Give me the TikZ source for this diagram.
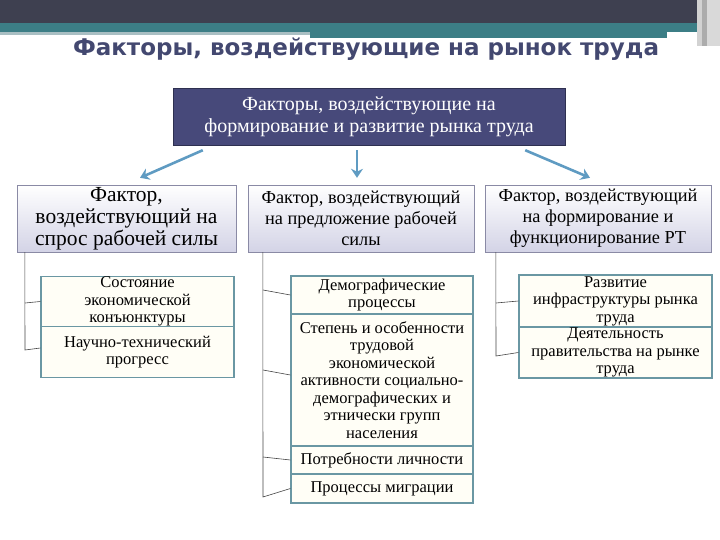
\documentclass[tikz,border=0pt]{standalone}
\usepackage{fontspec}
\setmainfont{Liberation Serif}
\newfontfamily\titlefont{DejaVu Sans}
\usetikzlibrary{positioning,arrows.meta}
\definecolor{barDark}{HTML}{3E4050}
\definecolor{barTeal}{HTML}{3C7E86}
\definecolor{barLight}{HTML}{A9BFC3}
\definecolor{titleCol}{HTML}{434870}
\definecolor{mainFill}{HTML}{47497A}
\definecolor{mainLine}{HTML}{2E3050}
\definecolor{factBot}{HTML}{D3D3E6}
\definecolor{factLine}{HTML}{8A8AA5}
\definecolor{itemLine}{HTML}{6A97A3}
\definecolor{itemFill}{HTML}{FFFEF6}
\definecolor{arrowCol}{HTML}{5F9BC2}
\definecolor{linkCol}{HTML}{444444}
\begin{document}
\begin{tikzpicture}[x=1pt,y=-1pt,
  topbox/.style={draw=mainLine,fill=mainFill,text=white,align=center,inner sep=0pt,
    font=\fontsize{20}{22}\selectfont},
  factbox/.style={draw=factLine,top color=white,bottom color=factBot,align=center,
    inner sep=0pt,minimum height=67pt,font=\fontsize{18.3}{21}\selectfont},
  itembox/.style={draw=itemLine,line width=1.2pt,fill=itemFill,align=center,
    inner sep=0pt,font=\fontsize{16.5}{17.5}\selectfont},
  arr/.style={arrowCol,line width=2.6pt,-{Stealth[length=9pt,width=12pt]}},
  link/.style={draw=linkCol,line width=0.6pt}]
	\useasboundingbox (0,0) rectangle (720,540);
	% header strips
	\fill[barDark] (0,0) rectangle (697,23);
	\fill[barTeal] (0,23) rectangle (697,32);
	\fill[barTeal] (310,32) rectangle (667,38);
	\fill[barLight] (0,32) rectangle (310,35);
	\fill[gray!35] (697,0) rectangle (702,46);
	\fill[gray!65] (702,0) rectangle (707,46);
	\fill[gray!30] (707,0) rectangle (720,46);
	\node[font=\titlefont\bfseries\fontsize{23}{28}\selectfont,text=titleCol] (title) at (366,49) {Факторы, воздействующие на рынок труда};

	\node[topbox,minimum width=392pt,minimum height=57pt] (main) at (369,116.5) {Факторы, воздействующие на\\формирование и развитие рынка труда};

	\node[factbox,minimum width=219pt,font=\fontsize{21.5}{22}\selectfont] (fA) at (126.5,218.5) {Фактор,\\воздействующий на\\спрос рабочей силы};
	\node[factbox,minimum width=226pt] (fB) at (361,218.5) {Фактор, воздействующий\\на предложение рабочей\\силы};
	\node[factbox,minimum width=226pt] (fC) at (598,218.5) {Фактор, воздействующий\\на формирование и\\функционирование РТ};

	\draw[arr] ([xshift=30pt,yshift=-5pt]main.south west) -- ([xshift=13.5pt,yshift=7pt]fA.north);
	\draw[arr] ([xshift=-12pt,yshift=-5pt]main.south) -- ([xshift=-4pt,yshift=7pt]fB.north);
	\draw[arr] ([xshift=-40pt,yshift=-5pt]main.south east) -- ([xshift=-8pt,yshift=7pt]fC.north);

	% left column
	\node[itembox,minimum width=193pt,minimum height=50pt] (l1) at (137.5,301.5) {Состояние\\экономической\\конъюнктуры};
	\node[itembox,minimum width=193pt,minimum height=51pt] (l2) at (137.5,352) {Научно-технический\\прогресс};
	\coordinate (la1) at (25,303);
	\coordinate (la2) at (25,350);
	\draw[link] ([xshift=8pt]fA.south west) -- (la2) -- ([yshift=4pt]l2.west);
	\draw[link] (la1) -- (l1.west);

	% middle column
	\node[itembox,minimum width=182pt,minimum height=38pt] (m1) at (382,295) {Демографические\\процессы};
	\node[itembox,minimum width=182pt,minimum height=132pt] (m2) at (382,380) {Степень и особенности\\трудовой\\экономической\\активности социально-\\демографических и\\этнически групп\\населения};
	\node[itembox,minimum width=182pt,minimum height=28pt] (m3) at (382,460) {Потребности личности};
	\node[itembox,minimum width=182pt,minimum height=29pt] (m4) at (382,488.5) {Процессы миграции};
	\coordinate (mb1) at (263,290);
	\coordinate (mb2) at (263,370);
	\coordinate (mb3) at (263,457);
	\coordinate (mb4) at (263,497);
	\draw[link] ([xshift=15pt]fB.south west) -- (mb4) -- (m4.west);
	\draw[link] (mb1) -- (m1.west);
	\draw[link] (mb2) -- ([yshift=5pt]m2.west);
	\draw[link] (mb3) -- (m3.west);

	% right column
	\node[itembox,minimum width=193pt,minimum height=52pt] (r1) at (615.5,301) {Развитие\\инфраструктуры рынка\\труда};
	\node[itembox,minimum width=193pt,minimum height=51pt] (r2) at (615.5,352.5) {Деятельность\\правительства на рынке\\труда};
	\coordinate (rb1) at (496,303);
	\coordinate (rb2) at (496,356);
	\draw[link] ([xshift=11pt]fC.south west) -- (rb2) -- (r2.west);
	\draw[link] (rb1) -- (r1.west);
\end{tikzpicture}
\end{document}
